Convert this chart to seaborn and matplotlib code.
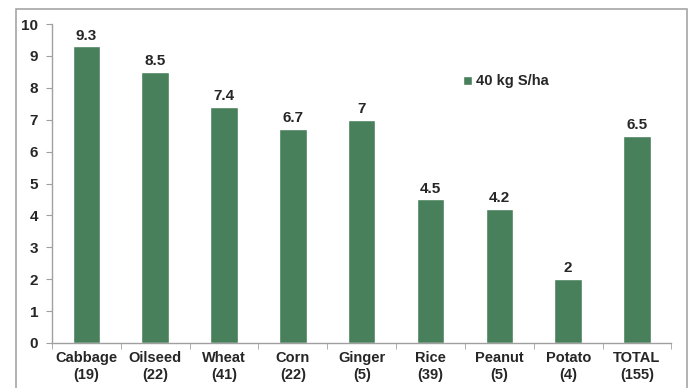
import pandas as pd
import matplotlib.pyplot as plt
import seaborn as sns
from matplotlib.patches import Rectangle
from matplotlib.ticker import FixedLocator

# Crop yield response values
crops = ['Cabbage', 'Oilseed', 'Wheat', 'Corn', 'Ginger', 'Rice', 'Peanut', 'Potato', 'TOTAL']
counts = [19, 22, 41, 22, 5, 39, 5, 4, 155]
values = [9.3, 8.5, 7.4, 6.7, 7, 4.5, 4.2, 2, 6.5]
series_name = '40 kg S/ha'

labels = [f'{c}\n({n})' for c, n in zip(crops, counts)]
df = pd.DataFrame({'crop': labels, 'value': values, 'series': series_name})

sns.set_style('white')
plt.rcParams['font.family'] = ['Liberation Sans', 'DejaVu Sans']
plt.rcParams['font.weight'] = 'bold'

green = '#47805a'
text_col = '#262626'

fig = plt.figure(figsize=(6.89, 3.88), dpi=100)
ax = fig.add_axes([0.0755, 0.116, 0.899, 0.822])

sns.barplot(data=df, x='crop', y='value', hue='series', palette=[green],
            width=0.4, ax=ax, saturation=1, legend=True)

# data labels
for x, v in enumerate(values):
    ax.text(x, v + 0.12, f'{v:g}', ha='center', va='bottom', fontsize=11,
            fontweight='bold', color=text_col)

ax.set_ylim(0, 10)
ax.set_xlim(-0.5, len(crops) - 0.5)
ax.set_yticks(range(0, 11))
ax.set_xlabel('')
ax.set_ylabel('')

for side in ['top', 'right']:
    ax.spines[side].set_visible(False)
for side in ['left', 'bottom']:
    ax.spines[side].set_color('#a0a0a0')
    ax.spines[side].set_linewidth(1)

ax.tick_params(axis='y', left=True, length=4, color='#a0a0a0', labelsize=11,
               labelcolor=text_col, pad=6)
ax.tick_params(axis='x', which='major', length=0, labelsize=10.5,
               labelcolor=text_col, pad=6)
ax.xaxis.set_minor_locator(FixedLocator([i - 0.5 for i in range(len(crops) + 1)]))
ax.tick_params(axis='x', which='minor', bottom=True, length=4, color='#a0a0a0')
for lbl in ax.get_xticklabels() + ax.get_yticklabels():
    lbl.set_fontweight('bold')

leg = ax.legend(loc='upper left', bbox_to_anchor=(0.642, 0.883), frameon=False,
                handlelength=0.6, handleheight=0.6, handletextpad=0.3,
                prop={'size': 10.5, 'weight': 'bold'})
for t in leg.get_texts():
    t.set_color(text_col)

# outer chart frame
fig.add_artist(Rectangle((16 / 689, -0.05), (687 - 16) / 689, 1.05 - 9 / 388,
                         transform=fig.transFigure, fill=False,
                         edgecolor='#a6a6a6', linewidth=1.2))

fig.savefig('out.png', dpi=100)
